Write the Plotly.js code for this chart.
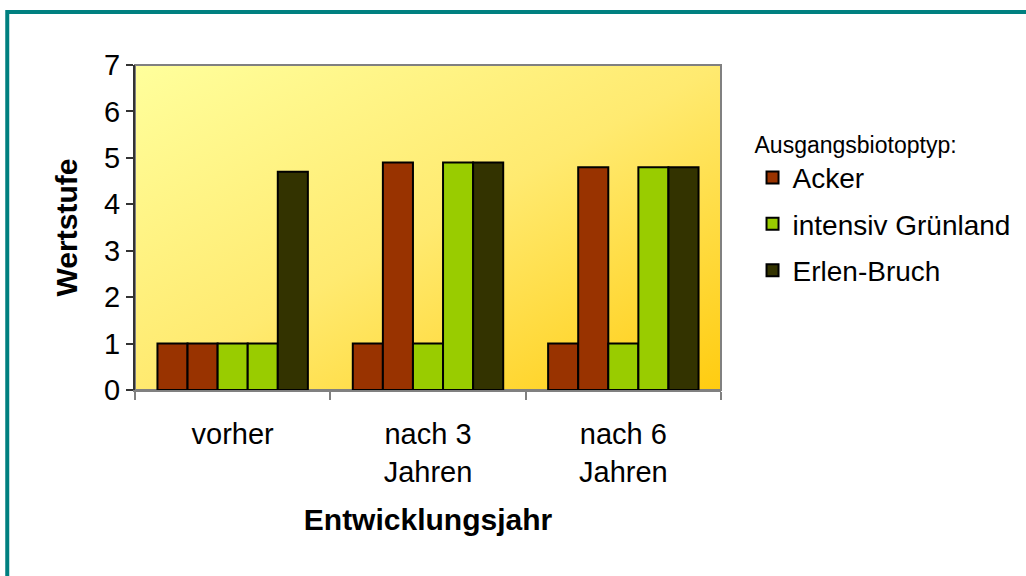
<!DOCTYPE html>
<html>
<head>
<meta charset="utf-8">
<script src="https://cdn.plot.ly/plotly-3.0.1.min.js"></script>
<style>
html,body{margin:0;padding:0;background:#fff;}
#chart{width:1026px;height:576px;}
</style>
</head>
<body>
<div id="chart"></div>
<script>
// Data
const categories = ['vorher', 'nach 3<br>Jahren', 'nach 6<br>Jahren'];
const ackerA = [1, 1, 1];
const ackerB = [1, 4.9, 4.8];
const gruenlandA = [1, 1, 1];
const gruenlandB = [1, 4.9, 4.8];
const erlenBruch = [4.7, 4.9, 4.8];
const seriesNames = ['Acker', 'intensiv Grünland', 'Erlen-Bruch'];
const legendTitle = 'Ausgangsbiotoptyp:';
const xTitle = 'Entwicklungsjahr';
const yTitle = 'Wertstufe';

const colAcker = '#993300', colGruen = '#99CC00', colErlen = '#333300';
const font = 'Liberation Sans, Arial, sans-serif';

function bar(y, name, color, show, group) {
  return {
    type: 'bar', x: categories, y: y, name: name,
    legendgroup: group, showlegend: show,
    marker: {color: color, line: {color: '#000', width: 2}},
    hoverinfo: 'y'
  };
}

const traces = [
  bar(ackerA, seriesNames[0], colAcker, true, 'a'),
  bar(ackerB, seriesNames[0], colAcker, false, 'a'),
  bar(gruenlandA, seriesNames[1], colGruen, true, 'g'),
  bar(gruenlandB, seriesNames[1], colGruen, false, 'g'),
  bar(erlenBruch, seriesNames[2], colErlen, true, 'e')
];

const grad = "<svg xmlns='http://www.w3.org/2000/svg' width='100' height='100' preserveAspectRatio='none'>" +
  "<defs><linearGradient id='g' x1='0' y1='0' x2='1' y2='1'>" +
  "<stop offset='0' stop-color='#FFFF9C'/><stop offset='0.5' stop-color='#FFEA70'/><stop offset='1' stop-color='#FFCC10'/>" +
  "</linearGradient></defs><rect width='100' height='100' fill='url(#g)'/></svg>";

const layout = {
  width: 1026, height: 576,
  margin: {l: 135, r: 304, t: 65, b: 186},
  paper_bgcolor: '#ffffff',
  plot_bgcolor: 'rgba(0,0,0,0)',
  font: {family: font, color: '#000', size: 29},
  barmode: 'group',
  bargap: 0.23,
  bargroupgap: 0,
  showlegend: true,
  legend: {
    x: 1.052, y: 0.822, xanchor: 'left', yanchor: 'top',
    font: {size: 28, family: font},
    title: {text: legendTitle, font: {size: 23, family: font}, side: 'top'},
    bgcolor: 'rgba(0,0,0,0)',
    tracegroupgap: 7
  },
  xaxis: {
    type: 'category',
    showline: true, linecolor: '#808080', linewidth: 2,
    ticks: 'outside', tickson: 'boundaries', ticklen: 8, tickcolor: '#808080', tickwidth: 2,
    tickfont: {size: 29, family: font},
    ticklabelstandoff: 17,
    showgrid: false, zeroline: false,
    title: {text: '<b>' + xTitle + '</b>', font: {size: 30, family: font}, standoff: 22},
    automargin: false
  },
  yaxis: {
    range: [0, 7], dtick: 1,
    showline: true, linecolor: '#333333', linewidth: 2,
    ticks: 'outside', ticklen: 7, tickcolor: '#333333', tickwidth: 2,
    tickfont: {size: 29, family: font},
    showgrid: false, zeroline: false,
    title: {text: '<b>' + yTitle + '</b>', font: {size: 30, family: font}, standoff: 18},
    automargin: false
  },
  images: [{
    source: 'data:image/svg+xml;charset=utf-8,' + encodeURIComponent(grad),
    xref: 'paper', yref: 'paper', x: 0, y: 1, sizex: 1, sizey: 1,
    xanchor: 'left', yanchor: 'top', sizing: 'stretch', layer: 'below'
  }],
  shapes: [
    {type: 'rect', xref: 'paper', yref: 'paper', x0: 0, x1: 1, y0: 0, y1: 1,
     line: {color: '#808080', width: 2}, fillcolor: 'rgba(0,0,0,0)', layer: 'below'},
    {type: 'rect', xref: 'paper', yref: 'paper', x0: -0.218, x1: 1.7, y0: -1, y1: 1.163,
     line: {color: '#008080', width: 4}, fillcolor: 'rgba(0,0,0,0)', layer: 'above'}
  ]
};

Plotly.newPlot('chart', traces, layout, {displayModeBar: false, staticPlot: true});
</script>
</body>
</html>
